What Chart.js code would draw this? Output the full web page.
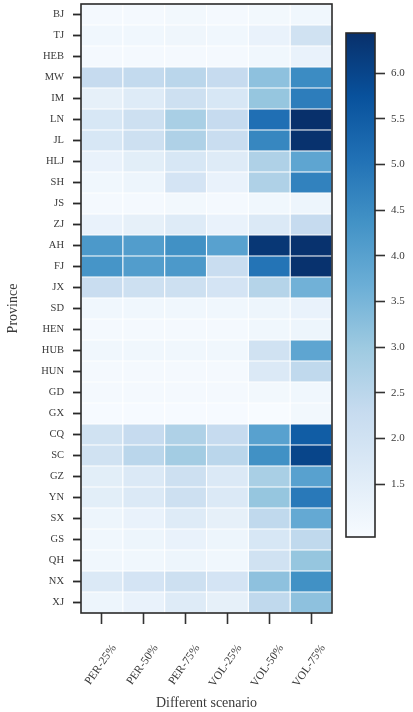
<!DOCTYPE html>
<html>
<head>
<meta charset="utf-8">
<script src="https://cdn.jsdelivr.net/npm/chart.js@4.4.1/dist/chart.umd.min.js"></script>
<style>
  html, body { margin: 0; padding: 0; background: #fff; }
  #wrap { position: relative; width: 413px; height: 712px; }
  .box { position: absolute; top: 0; }
</style>
</head>
<body>
<div id="wrap">
  <div class="box" style="left:0;width:340px;height:712px"><canvas id="heat"></canvas></div>
  <div class="box" style="left:330px;width:83px;height:712px"><canvas id="cbar"></canvas></div>
</div>
<script>
const provinces = ["BJ", "TJ", "HEB", "MW", "IM", "LN", "JL", "HLJ", "SH", "JS",
  "ZJ", "AH", "FJ", "JX", "SD", "HEN", "HUB", "HUN", "GD", "GX",
  "CQ", "SC", "GZ", "YN", "SX", "GS", "QH", "NX", "XJ"];
const scenarios = ["PER-25%", "PER-50%", "PER-75%", "VOL-25%", "VOL-50%", "VOL-75%"];

// one array per scenario, same order as provinces
const per25 = [1.0, 1.1, 1.0, 2.3, 1.4, 1.8, 1.8, 1.3, 1.1, 1.0,
  1.3, 4.2, 4.3, 2.2, 1.1, 1.0, 1.1, 1.0, 1.0, 0.95,
  2.0, 2.0, 1.5, 1.5, 1.2, 1.1, 1.1, 1.7, 1.2];
const per50 = [1.0, 1.1, 1.0, 2.35, 1.6, 2.1, 2.1, 1.5, 1.2, 1.0,
  1.4, 4.1, 4.1, 2.1, 1.1, 1.0, 1.1, 1.0, 1.0, 0.95,
  2.3, 2.5, 1.7, 1.7, 1.3, 1.2, 1.1, 1.9, 1.3];
const per75 = [1.05, 1.15, 1.0, 2.5, 2.1, 2.8, 2.7, 1.8, 1.9, 1.05,
  1.6, 4.4, 4.2, 2.1, 1.1, 1.0, 1.1, 1.0, 1.0, 0.95,
  2.7, 2.9, 2.1, 2.1, 1.6, 1.3, 1.2, 2.1, 1.6];
const vol25 = [1.0, 1.1, 1.0, 2.3, 1.8, 2.3, 2.2, 1.6, 1.3, 1.0,
  1.3, 4.0, 2.2, 1.9, 1.1, 1.0, 1.1, 1.0, 1.0, 0.95,
  2.3, 2.5, 1.7, 1.7, 1.4, 1.2, 1.1, 1.9, 1.4];
const vol50 = [1.05, 1.3, 1.1, 3.2, 3.1, 5.1, 4.6, 2.7, 2.7, 1.1,
  1.7, 6.3, 5.0, 2.6, 1.2, 1.1, 2.0, 1.7, 1.05, 0.92,
  4.0, 4.4, 2.8, 3.1, 2.4, 1.8, 2.0, 3.2, 2.4];
const vol75 = [1.1, 2.0, 1.3, 4.5, 4.8, 6.44, 6.4, 3.9, 4.7, 1.2,
  2.3, 6.4, 6.4, 3.6, 1.3, 1.2, 3.9, 2.4, 1.1, 1.05,
  5.5, 6.0, 4.0, 4.9, 3.8, 2.4, 3.1, 4.4, 3.2];

const cbarTicks = [1.5, 2.0, 2.5, 3.0, 3.5, 4.0, 4.5, 5.0, 5.5, 6.0];

const columns = [per25, per50, per75, vol25, vol50, vol75];
const all = columns.flat();
const vmin = Math.min(...all);
const vmax = Math.max(...all);

// matplotlib "Blues"
const bluesStops = ["#f7fbff", "#deebf7", "#c6dbef", "#9ecae1", "#6baed6",
  "#4292c6", "#2171b5", "#08519c", "#08306b"];
const hexRgb = (h) => [1, 3, 5].map((i) => parseInt(h.slice(i, i + 2), 16));
const blues = (t) => {
  t = Math.max(0, Math.min(1, t));
  const pos = t * (bluesStops.length - 1);
  const i = Math.min(Math.floor(pos), bluesStops.length - 2);
  const f = pos - i;
  const a = hexRgb(bluesStops[i]);
  const b = hexRgb(bluesStops[i + 1]);
  const c = a.map((v, k) => Math.round(v + (b[k] - v) * f));
  return `rgb(${c[0]},${c[1]},${c[2]})`;
};
const colorOf = (v) => blues((v - vmin) / (vmax - vmin));

const serif = "'Liberation Serif', 'DejaVu Serif', serif";
const ink = "#3a3a3a";

const frame = {
  id: "frame",
  afterDraw(chart) {
    const { ctx, chartArea: a } = chart;
    ctx.save();
    ctx.strokeStyle = "#2a2a2a";
    ctx.lineWidth = 1.6;
    ctx.strokeRect(a.left, a.top, a.right - a.left, a.bottom - a.top);
    ctx.restore();
  },
};

// keep the plot box where the layout padding puts it
const noEdgePadding = (s) => {
  s.paddingTop = 0;
  s.paddingBottom = 0;
  s.paddingLeft = 0;
  s.paddingRight = 0;
};

// heatmap: each scenario column is a set of floating horizontal bars
new Chart(document.getElementById("heat"), {
  type: "bar",
  data: {
    labels: provinces,
    datasets: columns.map((vals, j) => ({
      label: scenarios[j],
      data: vals.map(() => [j - 0.5, j + 0.5]),
      backgroundColor: vals.map(colorOf),
      borderColor: "#ffffff",
      borderWidth: 0.9,
      borderSkipped: false,
      grouped: false,
      barPercentage: 1,
      categoryPercentage: 1,
    })),
  },
  options: {
    indexAxis: "y",
    responsive: true,
    maintainAspectRatio: false,
    animation: false,
    layout: { padding: { top: 4, right: 8, bottom: 0, left: 5 } },
    plugins: { legend: { display: false }, tooltip: { enabled: false } },
    scales: {
      x: {
        type: "linear",
        min: -0.5,
        max: 5.5,
        afterBuildTicks: (s) => { s.ticks = scenarios.map((_, i) => ({ value: i })); },
        afterFit: (s) => { s.height = 99; noEdgePadding(s); },
        ticks: {
          callback: (v) => scenarios[v],
          minRotation: 55,
          maxRotation: 55,
          padding: 18,
          labelOffset: 12,
          color: ink,
          font: { family: serif, size: 11.5 },
        },
        grid: { drawOnChartArea: false, tickLength: 11, tickWidth: 1.6, tickColor: "#333" },
        border: { display: false },
        title: {
          display: true,
          text: "Different scenario",
          color: ink,
          font: { family: serif, size: 14 },
          padding: { top: 0, bottom: 0 },
        },
      },
      y: {
        type: "category",
        afterFit: (s) => { s.width = 76; noEdgePadding(s); },
        ticks: {
          autoSkip: false,
          padding: 9,
          color: ink,
          font: { family: serif, size: 10.5 },
        },
        grid: {
          offset: false,
          drawOnChartArea: false,
          drawTicks: true,
          tickLength: 8,
          tickWidth: 1.8,
          tickColor: "#2a2a2a",
        },
        border: { display: false },
        title: {
          display: true,
          text: "Province",
          color: ink,
          font: { family: serif, size: 14 },
          padding: { top: 0, bottom: 0 },
        },
      },
    },
  },
  plugins: [frame],
});

// colour bar
new Chart(document.getElementById("cbar"), {
  type: "bar",
  data: {
    labels: [""],
    datasets: [{
      data: [[vmin, vmax]],
      backgroundColor: (c) => {
        const chart = c.chart;
        if (!chart.chartArea) return "#6baed6";
        const y = chart.scales.y;
        const g = chart.ctx.createLinearGradient(0, y.getPixelForValue(vmin), 0, y.getPixelForValue(vmax));
        bluesStops.forEach((col, i) => g.addColorStop(i / (bluesStops.length - 1), col));
        return g;
      },
      borderWidth: 0,
      barPercentage: 1,
      categoryPercentage: 1,
    }],
  },
  options: {
    responsive: true,
    maintainAspectRatio: false,
    animation: false,
    layout: { padding: { top: 33, right: 0, bottom: 175, left: 16 } },
    plugins: { legend: { display: false }, tooltip: { enabled: false } },
    scales: {
      x: { display: false },
      y: {
        position: "right",
        min: vmin,
        max: vmax,
        afterBuildTicks: (s) => { s.ticks = cbarTicks.map((v) => ({ value: v })); },
        afterFit: (s) => { s.width = 38; noEdgePadding(s); },
        ticks: {
          callback: (v) => v.toFixed(1),
          padding: 6,
          color: ink,
          font: { family: serif, size: 11 },
        },
        grid: { drawOnChartArea: false, tickLength: 10, tickWidth: 1.6, tickColor: "#333" },
        border: { display: false },
      },
    },
  },
  plugins: [frame],
});
</script>
</body>
</html>
